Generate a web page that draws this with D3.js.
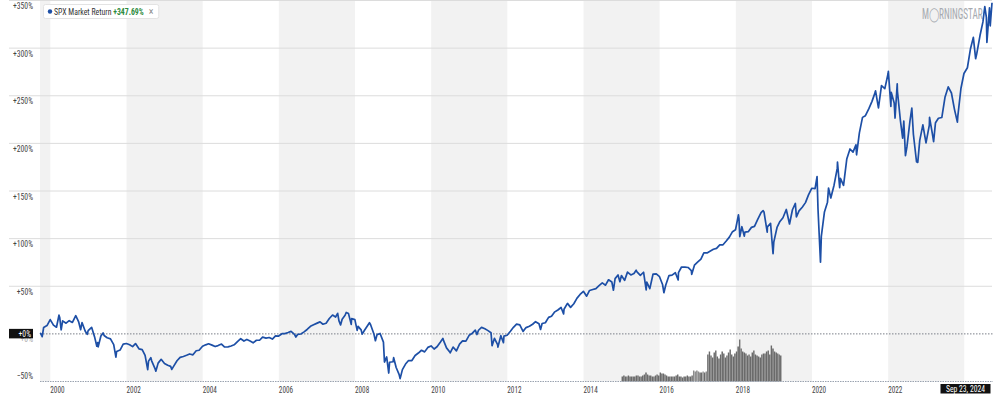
<!DOCTYPE html>
<html><head><meta charset="utf-8">
<script src="https://cdn.jsdelivr.net/npm/d3@7"></script>
<style>
html,body{margin:0;padding:0;background:#fff;}
svg{display:block;font-family:"Liberation Sans Narrow","Roboto Condensed",Roboto,sans-serif;}
</style></head><body><svg id="chart" width="1000" height="404"></svg>
<script>
// ---- data ----
const seriesName = "SPX Market Return";
const lastReturnLabel = "+347.69%";
const endDateLabel = "Sep 23, 2024";
const yTicks = [-50, 0, 50, 100, 150, 200, 250, 300, 350];
const xTickYears = [2000, 2002, 2004, 2006, 2008, 2010, 2012, 2014, 2016, 2018, 2020, 2022];
const shadedBands = [["1999-09-24","2000-01-01"],["2002-01-01","2004-01-01"],["2006-01-01","2008-01-01"],
  ["2010-01-01","2012-01-01"],["2014-01-01","2016-01-01"],["2018-01-01","2020-01-01"],["2022-01-01","2024-01-01"]];

// cumulative return (%) since 1999-09-24
const spxReturn = [
 ["1999-09-24",0.0],["1999-09-30",0.4],["1999-10-15",-3.0],["1999-10-29",6.7],["1999-11-30",8.7],["1999-12-31",15.0],
 ["2000-01-31",9.2],["2000-02-29",7.0],["2000-03-24",19.6],["2000-03-31",17.3],["2000-04-14",4.3],["2000-04-28",13.7],["2000-05-31",11.2],["2000-06-30",13.9],["2000-07-31",12.0],["2000-09-01",19.1],["2000-09-29",12.5],["2000-10-18",4.4],["2000-10-31",11.9],["2000-11-30",3.0],["2000-12-20",-0.5],["2000-12-29",3.4],
 ["2001-01-31",6.9],["2001-02-28",-2.9],["2001-03-22",-13.0],["2001-03-30",-9.2],["2001-04-04",-13.6],["2001-04-30",-2.2],["2001-05-21",1.0],["2001-05-31",-1.7],["2001-06-29",-4.1],["2001-07-31",-5.2],["2001-08-31",-11.3],["2001-09-21",-24.4],["2001-09-28",-18.5],["2001-10-31",-17.0],["2001-11-30",-10.8],["2001-12-31",-10.1],
 ["2002-01-31",-11.5],["2002-02-28",-13.4],["2002-03-28",-10.2],["2002-04-30",-15.7],["2002-05-31",-16.5],["2002-06-28",-22.5],["2002-07-23",-37.6],["2002-07-31",-28.6],["2002-08-22",-25.0],["2002-08-30",-28.3],["2002-09-30",-36.2],["2002-10-09",-39.2],["2002-10-31",-30.7],["2002-11-29",-26.7],["2002-12-31",-31.1],
 ["2003-01-31",-33.0],["2003-02-28",-34.1],["2003-03-11",-37.3],["2003-03-31",-33.6],["2003-04-30",-28.2],["2003-05-30",-24.6],["2003-06-30",-23.7],["2003-07-31",-22.5],["2003-08-29",-21.1],["2003-09-30",-22.0],["2003-10-31",-17.7],["2003-11-28",-17.2],["2003-12-31",-13.0],
 ["2004-01-30",-11.5],["2004-02-27",-10.4],["2004-03-31",-11.8],["2004-04-30",-13.3],["2004-05-28",-12.3],["2004-06-30",-10.7],["2004-07-30",-13.8],["2004-08-31",-13.6],["2004-09-30",-12.7],["2004-10-29",-11.5],["2004-11-30",-8.1],["2004-12-31",-5.1],
 ["2005-01-31",-7.5],["2005-02-28",-5.8],["2005-03-31",-7.6],["2005-04-29",-9.4],["2005-05-31",-6.7],["2005-06-30",-6.7],["2005-07-29",-3.4],["2005-08-31",-4.5],["2005-09-30",-3.8],["2005-10-31",-5.5],["2005-11-30",-2.2],["2005-12-30",-2.3],
 ["2006-01-31",0.2],["2006-02-28",0.3],["2006-03-31",1.4],["2006-04-28",2.6],["2006-05-31",-0.6],["2006-06-13",-3.3],["2006-06-30",-0.6],["2006-07-31",-0.1],["2006-08-31",2.1],["2006-09-29",4.6],["2006-10-31",7.9],["2006-11-30",9.6],["2006-12-29",11.0],
 ["2007-01-31",12.6],["2007-02-28",10.1],["2007-03-30",11.2],["2007-04-30",16.1],["2007-05-31",19.8],["2007-06-29",17.7],["2007-07-19",21.6],["2007-07-31",13.9],["2007-08-16",9.4],["2007-08-31",15.4],["2007-09-28",19.5],["2007-10-09",22.5],["2007-10-31",21.3],["2007-11-26",10.0],["2007-11-30",16.0],["2007-12-31",15.0],
 ["2008-01-22",3.7],["2008-01-31",7.9],["2008-02-29",4.2],["2008-03-10",-0.3],["2008-03-31",3.5],["2008-04-30",8.5],["2008-05-19",11.7],["2008-05-30",9.6],["2008-06-30",0.2],["2008-07-15",-7.2],["2008-07-31",-0.8],["2008-08-29",0.4],["2008-09-30",-8.7],["2008-10-10",-29.6],["2008-10-31",-24.2],["2008-11-20",-41.1],["2008-11-28",-29.8],["2008-12-31",-29.3],
 ["2009-01-06",-25.0],["2009-01-30",-35.3],["2009-02-27",-42.5],["2009-03-09",-47.0],["2009-03-31",-37.5],["2009-04-30",-31.7],["2009-05-29",-28.0],["2009-06-30",-28.0],["2009-07-31",-22.7],["2009-08-31",-20.1],["2009-09-30",-17.2],["2009-10-30",-18.9],["2009-11-30",-14.2],["2009-12-31",-12.7],
 ["2010-01-29",-15.9],["2010-02-26",-13.5],["2010-03-31",-8.5],["2010-04-23",-4.7],["2010-04-30",-7.1],["2010-05-28",-14.7],["2010-06-30",-19.3],["2010-07-02",-19.9],["2010-07-30",-13.8],["2010-08-31",-17.9],["2010-09-30",-10.7],["2010-10-29",-7.4],["2010-11-30",-7.6],["2010-12-31",-1.5],
 ["2011-01-31",0.7],["2011-02-28",3.9],["2011-03-16",-0.7],["2011-03-31",3.8],["2011-04-29",6.8],["2011-05-31",5.3],["2011-06-30",3.4],["2011-07-29",1.2],["2011-08-08",-12.4],["2011-08-31",-4.6],["2011-09-30",-11.4],["2011-10-03",-13.9],["2011-10-31",-1.9],["2011-11-25",-9.2],["2011-11-30",-2.4],["2011-12-30",-1.5],
 ["2012-01-31",2.7],["2012-02-29",6.9],["2012-03-30",10.3],["2012-04-30",9.4],["2012-05-31",2.6],["2012-06-29",6.6],["2012-07-31",8.0],["2012-08-31",10.1],["2012-09-28",12.8],["2012-10-31",10.6],["2012-11-15",4.6],["2012-11-30",10.9],["2012-12-31",11.7],
 ["2013-01-31",17.3],["2013-02-28",18.6],["2013-03-28",22.8],["2013-04-30",25.1],["2013-05-31",27.7],["2013-06-24",20.9],["2013-06-28",25.8],["2013-07-31",32.0],["2013-08-30",27.8],["2013-09-30",31.6],["2013-10-31",37.5],["2013-11-29",41.4],["2013-12-31",44.7],
 ["2014-01-31",39.6],["2014-02-28",45.6],["2014-03-31",46.6],["2014-04-30",47.5],["2014-05-30",50.6],["2014-06-30",53.5],["2014-07-31",51.1],["2014-08-29",56.8],["2014-09-30",54.4],["2014-10-15",45.8],["2014-10-31",58.0],["2014-11-28",61.9],["2014-12-16",54.8],["2014-12-31",61.2],
 ["2015-01-30",56.2],["2015-02-27",64.8],["2015-03-31",61.9],["2015-04-30",63.3],["2015-05-21",66.8],["2015-05-29",65.0],["2015-06-30",61.5],["2015-07-31",64.7],["2015-08-25",46.2],["2015-08-31",54.4],["2015-09-29",47.5],["2015-10-30",62.8],["2015-11-30",62.9],["2015-12-31",60.0],
 ["2016-01-29",51.9],["2016-02-11",43.2],["2016-02-29",51.3],["2016-03-31",61.2],["2016-04-29",61.7],["2016-05-31",64.2],["2016-06-27",56.6],["2016-06-30",64.3],["2016-07-29",70.2],["2016-08-31",70.0],["2016-09-30",69.7],["2016-10-31",66.5],["2016-11-04",62.5],["2016-11-30",72.1],["2016-12-30",75.3],
 ["2017-01-31",78.4],["2017-02-28",85.0],["2017-03-31",85.0],["2017-04-28",86.7],["2017-05-31",88.8],["2017-06-30",89.7],["2017-07-31",93.4],["2017-08-31",93.5],["2017-09-29",97.2],["2017-10-31",101.6],["2017-11-30",107.3],["2017-12-29",109.3],
 ["2018-01-26",124.9],["2018-01-31",121.1],["2018-02-08",102.1],["2018-02-28",112.5],["2018-03-23",102.6],["2018-03-29",106.8],["2018-04-30",107.3],["2018-05-31",111.8],["2018-06-29",112.8],["2018-07-31",120.5],["2018-08-31",127.2],["2018-09-20",129.4],["2018-09-28",128.1],["2018-10-29",106.8],["2018-10-31",112.3],["2018-11-30",116.1],["2018-12-24",84.1],["2018-12-31",96.3],
 ["2019-01-31",111.7],["2019-02-28",118.0],["2019-03-29",121.9],["2019-04-30",130.6],["2019-05-31",115.4],["2019-06-28",130.3],["2019-07-26",136.9],["2019-08-05",122.7],["2019-08-30",129.1],["2019-09-30",133.0],["2019-10-31",137.8],["2019-11-29",145.9],["2019-12-31",152.9],
 ["2020-01-31",152.5],["2020-02-19",165.1],["2020-02-28",131.3],["2020-03-23",75.2],["2020-03-31",102.3],["2020-04-30",128.0],["2020-05-29",138.3],["2020-06-08",153.1],["2020-06-30",142.7],["2020-07-31",156.1],["2020-08-31",174.0],["2020-09-02",180.3],["2020-09-23",153.4],["2020-09-30",163.3],["2020-10-30",156.0],["2020-11-30",183.5],["2020-12-31",194.1],
 ["2021-01-29",190.8],["2021-02-26",198.4],["2021-03-04",188.0],["2021-03-31",211.0],["2021-04-30",227.3],["2021-05-28",229.1],["2021-06-30",236.4],["2021-07-30",244.1],["2021-08-31",254.1],["2021-09-02",255.2],["2021-09-30",237.2],["2021-10-29",260.6],["2021-11-30",257.5],["2021-12-31",273.1],
 ["2022-01-03",275.5],["2022-01-27",238.7],["2022-01-31",253.5],["2022-02-28",242.4],["2022-03-08",226.5],["2022-03-29",262.6],["2022-03-31",254.7],["2022-04-29",223.5],["2022-05-20",205.4],["2022-05-31",223.5],["2022-06-16",187.1],["2022-06-30",196.3],["2022-07-29",223.4],["2022-08-16",237.0],["2022-08-31",209.6],["2022-09-30",180.7],["2022-10-12",180.0],["2022-10-31",203.1],["2022-11-30",219.4],["2022-12-30",200.6],
 ["2023-01-31",219.1],["2023-02-02",227.2],["2023-02-28",210.8],["2023-03-13",201.9],["2023-03-31",221.7],["2023-04-28",226.4],["2023-05-31",227.2],["2023-06-30",248.4],["2023-07-31",259.3],["2023-08-31",252.9],["2023-09-29",235.7],["2023-10-27",222.3],["2023-10-31",228.3],["2023-11-30",257.6],["2023-12-29",273.4],
 ["2024-01-31",279.4],["2024-02-29",299.0],["2024-03-28",311.3],["2024-04-19",288.9],["2024-04-30",294.2],["2024-05-31",313.2],["2024-06-28",327.5],["2024-07-16",343.7],["2024-07-31",332.3],["2024-08-05",306.0],["2024-08-30",342.2],["2024-09-06",323.4],["2024-09-23",347.7]
];

// trading volume (relative units), semi-monthly
const volume = [
 ["2015-01-01",5],["2015-01-16",6],["2015-02-01",5],["2015-02-15",5],["2015-03-01",6],["2015-03-16",5],["2015-04-01",5],["2015-04-16",5],["2015-05-01",5],["2015-05-16",6],["2015-06-01",6],["2015-06-16",5],
 ["2015-07-01",5],["2015-07-16",6],["2015-08-01",7],["2015-08-16",9],["2015-09-01",7],["2015-09-16",6],["2015-10-01",6],["2015-10-16",5],["2015-11-01",5],["2015-11-16",6],["2015-12-01",7],["2015-12-16",6],
 ["2016-01-01",9],["2016-01-16",8],["2016-02-01",8],["2016-02-15",7],["2016-03-01",6],["2016-03-16",5],["2016-04-01",5],["2016-04-16",5],["2016-05-01",5],["2016-05-16",5],["2016-06-01",6],["2016-06-16",7],
 ["2016-07-01",5],["2016-07-16",5],["2016-08-01",4],["2016-08-16",5],["2016-09-01",5],["2016-09-16",6],["2016-10-01",5],["2016-10-16",5],["2016-11-01",6],["2016-11-16",11],["2016-12-01",10],["2016-12-16",11],
 ["2017-01-01",10],["2017-01-16",9],["2017-02-01",9],["2017-02-15",10],["2017-03-01",9],["2017-03-16",10],["2017-04-01",27],["2017-04-16",30],["2017-05-01",26],["2017-05-16",24],["2017-06-01",29],["2017-06-16",31],
 ["2017-07-01",25],["2017-07-16",23],["2017-08-01",27],["2017-08-16",30],["2017-09-01",28],["2017-09-16",24],["2017-10-01",26],["2017-10-16",29],["2017-11-01",32],["2017-11-16",27],["2017-12-01",25],["2017-12-16",28],
 ["2018-01-01",30],["2018-01-16",35],["2018-02-01",42],["2018-02-15",33],["2018-03-01",30],["2018-03-16",29],["2018-04-01",28],["2018-04-16",26],["2018-05-01",27],["2018-05-16",25],["2018-06-01",29],["2018-06-16",31],
 ["2018-07-01",27],["2018-07-16",26],["2018-08-01",25],["2018-08-16",24],["2018-09-01",27],["2018-09-16",28],["2018-10-01",28],["2018-10-16",30],["2018-11-01",31],["2018-11-16",27],["2018-12-01",36],["2018-12-16",33],
 ["2019-01-01",30],["2019-01-16",29],["2019-02-01",28],["2019-02-15",27],["2019-03-01",26]
];
const volumeEnd = "2019-03-16";

// ---- chart ----
const parse = d3.timeParse("%Y-%m-%d");
const svg = d3.select("#chart");
const x = d3.scaleTime().domain([parse("1999-09-24"), parse("2024-09-23")]).range([40, 992]);
const y = d3.scaleLinear().domain([-50, 350]).range([381.5, 0.5]);
const yVol = d3.scaleLinear().domain([0, 45]).range([381.5, 336.5]);

// squeeze text horizontally to mimic the condensed face of the original
function condense(sel, k) {
  sel.each(function () {
    const w = this.getComputedTextLength();
    d3.select(this).attr("textLength", w * k).attr("lengthAdjust", "spacingAndGlyphs");
  });
}

// shaded bands
svg.append("g").selectAll("rect").data(shadedBands).join("rect")
  .attr("x", d => x(parse(d[0]))).attr("width", d => x(parse(d[1])) - x(parse(d[0])))
  .attr("y", 0).attr("height", y(-50)).attr("fill", "#f2f2f2");

// horizontal grid
svg.append("g").selectAll("line").data(yTicks.filter(t => t !== 0 && t !== -50)).join("line")
  .attr("x1", 9).attr("x2", 992).attr("y1", d => y(d)).attr("y2", d => y(d))
  .attr("stroke", "#dcdcdc").attr("stroke-width", 1);

// zero dotted line
svg.append("line").attr("x1", 40).attr("x2", 993).attr("y1", y(0)).attr("y2", y(0))
  .attr("stroke", "#7a7f88").attr("stroke-width", 1).attr("stroke-dasharray", "1.5,1.5");

// volume bars
const volDates = volume.map(d => parse(d[0])).concat([parse(volumeEnd)]);
svg.append("g").selectAll("rect").data(volume).join("rect")
  .attr("x", (d, i) => x(volDates[i]))
  .attr("width", (d, i) => Math.max(0.8, x(volDates[i + 1]) - x(volDates[i]) - 0.15))
  .attr("y", d => yVol(d[1])).attr("height", d => yVol(0) - yVol(d[1]))
  .attr("fill", d => (d[1] > 9 && d[1] < 12) ? "#8c8c8c" : "#6a6a6a");

// bottom axis line
svg.append("line").attr("x1", 40).attr("x2", 993).attr("y1", 381.5).attr("y2", 381.5)
  .attr("stroke", "#9aa3b0").attr("stroke-width", 1.2).attr("stroke-dasharray", "1.5,1");

// y labels
const yl = svg.append("g").attr("font-size", 9).selectAll("text").data(yTicks).join("text")
  .attr("x", 33).attr("text-anchor", "end")
  .attr("y", d => d === -50 ? y(d) - 2.5 : y(d) + 8.5)
  .attr("fill", d => d === 0 ? "#aaa" : "#444")
  .text(d => (d >= 0 ? "+" : "\u2212") + Math.abs(d) + "%");
condense(yl, 0.85);

// current-zero label (black box)
svg.append("rect").attr("x", 9).attr("y", y(0) - 5).attr("width", 24).attr("height", 9.5).attr("fill", "#111");
condense(svg.append("text").attr("x", 31).attr("y", y(0) + 3).attr("text-anchor", "end")
  .attr("font-size", 9).attr("fill", "#fff").text("+0%"), 0.85);

// x labels
const xl = svg.append("g").attr("font-size", 9).attr("fill", "#444").selectAll("text").data(xTickYears).join("text")
  .attr("x", d => x(new Date(d, 0, 1))).attr("y", 392.5).text(d => d);
condense(xl, 0.8);

// morningstar wordmark (horizontally compressed)
svg.append("text").attr("transform", "translate(922,18.5) scale(0.66,1)").attr("font-size", 14)
  .attr("fill", "#a6aab0").text("M\u25EFRNINGSTAR");

// line
const line = d3.line().x(d => x(parse(d[0]))).y(d => y(d[1])).curve(d3.curveLinear);
svg.append("path").datum(spxReturn).attr("d", line)
  .attr("fill", "none").attr("stroke", "#1d4fa6").attr("stroke-width", 1.7).attr("stroke-linejoin", "round");

// end date label
svg.append("rect").attr("x", 940.5).attr("y", 384).attr("width", 50).attr("height", 9.5).attr("fill", "#111");
condense(svg.append("text").attr("x", 965.5).attr("y", 392).attr("text-anchor", "middle")
  .attr("font-size", 9).attr("fill", "#fff").text(endDateLabel), 0.85);

// legend (single text element, compressed horizontally)
const lg = svg.append("g");
const box = lg.append("rect").attr("x", 43.5).attr("y", 4.5).attr("height", 14).attr("rx", 2)
  .attr("fill", "#fff").attr("stroke", "#e3e3e3");
lg.append("circle").attr("cx", 50).attr("cy", 11.5).attr("r", 2.2).attr("fill", "#1d4fa6");
const k = 0.82;
const lt = lg.append("text").attr("transform", `translate(54,15) scale(${k},1)`).attr("font-size", 9.5).attr("fill", "#333");
lt.append("tspan").text(seriesName + " ");
lt.append("tspan").attr("font-weight", "bold").attr("fill", "#2e8b3e").text(lastReturnLabel);
const lw = lt.node().getComputedTextLength() * k;
const cx = 54 + lw + 5;
lg.append("text").attr("x", cx).attr("y", 15).attr("font-size", 10).attr("fill", "#888").text("\u00D7");
box.attr("width", cx + 10 - 43.5);
</script></body></html>
